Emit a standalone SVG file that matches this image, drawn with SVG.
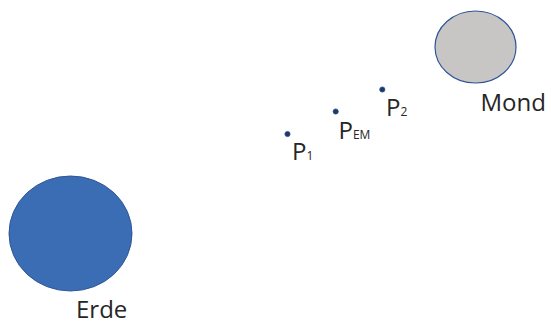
<svg xmlns="http://www.w3.org/2000/svg" width="551" height="323" viewBox="0 0 551 323">
<style>
text{font-family:"Open Sans","Noto Sans","Liberation Sans",sans-serif;fill:#262626}
.lbl{font-size:24px}
.pt{font-size:24px}
.sub{font-size:12px}
.dot{fill:#1f3864;stroke:#2f5597;stroke-width:0.8}
</style>
<rect width="551" height="323" fill="#ffffff"/>
<g id="erde">
<ellipse cx="70.5" cy="233.5" rx="61.5" ry="57.5" fill="#3b6db5" stroke="#2f5597" stroke-width="1"/>
<text class="lbl" x="76" y="317.5">Erde</text>
</g>
<g id="mond">
<ellipse cx="475.5" cy="47" rx="40.5" ry="36" fill="#c8c6c5" stroke="#2f5597" stroke-width="1.2"/>
<text class="lbl" x="480.5" y="111">Mond</text>
</g>
<g id="p1">
<circle class="dot" cx="287.5" cy="134" r="2.6"/>
<text class="pt" x="292" y="159.5">P<tspan class="sub">1</tspan></text>
</g>
<g id="pem">
<circle class="dot" cx="335.7" cy="111.5" r="2.6"/>
<text class="pt" x="338.5" y="139.3">P<tspan class="sub">EM</tspan></text>
</g>
<g id="p2">
<circle class="dot" cx="382.3" cy="89.5" r="2.6"/>
<text class="pt" x="386" y="115.5">P<tspan class="sub">2</tspan></text>
</g>
<g id="connectors"></g>
</svg>
